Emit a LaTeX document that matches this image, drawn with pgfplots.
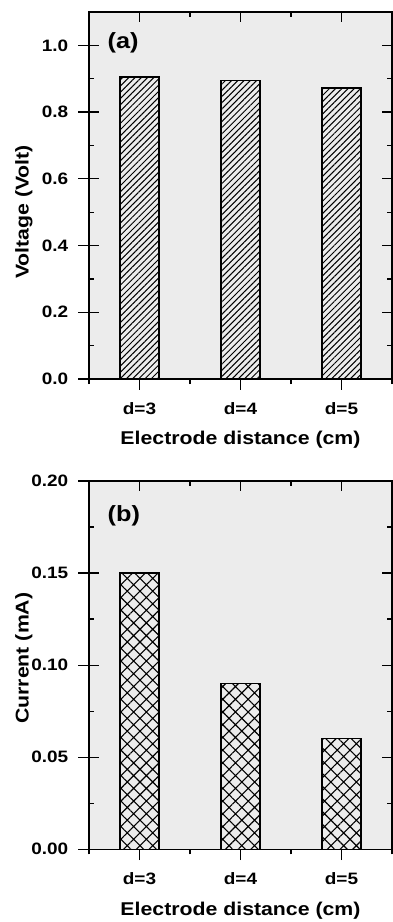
\documentclass[border=0pt]{standalone}
\usepackage{fontspec}
\setmainfont{Liberation Sans}[FakeStretch=1.15]
\usepackage{pgfplots}
\pgfplotsset{compat=1.18}
\usetikzlibrary{patterns.meta}
\definecolor{bggray}{HTML}{ECECEC}

\pgfplotsset{
  base/.style={
    scale only axis, width=303bp,
    xmin=0.5, xmax=3.5,
    axis line style={line width=1.3bp, black},
    major tick style={line width=1.3bp, black},
    minor tick style={line width=1.3bp, black},
    /pgf/number format/assume math mode=true,
    ticklabel style={font=\fontsize{16.5bp}{19bp}\selectfont\bfseries},
    label style={font=\fontsize{18.5bp}{22bp}\selectfont\bfseries},
  },
  mainax/.style={
    base,
    axis background/.style={fill=bggray},
    xtick={1,2,3}, xticklabels={d=3,d=4,d=5},
    minor xtick={0.5,1.5,2.5,3.5},
    xtick pos=bottom, ytick pos=left, tick align=outside,
    major tick length=10.7bp, minor tick length=5bp,
    xticklabel style={yshift=-9.5bp},
    yticklabel style={xshift=-6.5bp},
  },
  overax/.style={
    base,
    xtick={1,2,3}, minor xtick={1.5,2.5},
    xtick pos=top, ytick pos=both, tick align=inside,
    major tick length=10bp, minor tick length=5bp,
    xticklabels={}, yticklabels={},
  },
}

\begin{document}
\begin{tikzpicture}
\path[use as bounding box] (0,-922bp) rectangle (393bp,0);

% ---------- panel (a) ----------
\begin{axis}[mainax, at={(89bp,-379bp)}, anchor=south west, height=367bp,
  ymin=0, ymax=1.1,
  ytick={0,0.2,0.4,0.6,0.8,1.0}, minor ytick={},
  yticklabel style={/pgf/number format/.cd, fixed, fixed zerofill, precision=1},
  xlabel={Electrode distance (cm)}, ylabel={Voltage (Volt)},
  xlabel style={at={(axis description cs:0.5,-0.166)}, anchor=center},
  ylabel style={at={(axis description cs:-0.215,0.455)}, anchor=center},
]
\addplot[ybar, bar width=39bp, bar shift=0pt, draw=black, line width=1.3bp,
  pattern={Lines[angle=45, distance=4.4bp, line width=1bp]}, pattern color=black]
  coordinates {(1,0.905) (2,0.895) (3,0.872)};
\node[anchor=west, font=\fontsize{22bp}{26bp}\selectfont\bfseries] at (axis cs:0.65,1.009) {(a)};
\end{axis}
\begin{axis}[overax, at={(89bp,-379bp)}, anchor=south west, height=367bp,
  ymin=0, ymax=1.1,
  ytick={0,0.2,0.4,0.6,0.8,1.0}, minor ytick={0.1,0.3,0.5,0.7,0.9},
]
\end{axis}

% ---------- panel (b) ----------
\begin{axis}[mainax, at={(89bp,-849.3bp)}, anchor=south west, height=368.3bp,
  ymin=0, ymax=0.2,
  ytick={0,0.05,0.10,0.15,0.20}, minor ytick={},
  yticklabel style={/pgf/number format/.cd, fixed, fixed zerofill, precision=2},
  xlabel={Electrode distance (cm)}, ylabel={Current (mA)},
  xlabel style={at={(axis description cs:0.5,-0.1667)}, anchor=center},
  ylabel style={at={(axis description cs:-0.215,0.519)}, anchor=center},
]
\addplot[ybar, bar width=39bp, bar shift=0pt, draw=black, line width=1.3bp,
  pattern={Hatch[angle=45, distance=9bp, line width=1.1bp]}, pattern color=black]
  coordinates {(1,0.15) (2,0.09) (3,0.06)};
\node[anchor=west, font=\fontsize{22bp}{26bp}\selectfont\bfseries] at (axis cs:0.65,0.181) {(b)};
\end{axis}
\begin{axis}[overax, at={(89bp,-849.3bp)}, anchor=south west, height=368.3bp,
  ymin=0, ymax=0.2,
  ytick={0,0.05,0.10,0.15,0.20}, minor ytick={0.025,0.075,0.125,0.175},
]
\end{axis}
\end{tikzpicture}
\end{document}
